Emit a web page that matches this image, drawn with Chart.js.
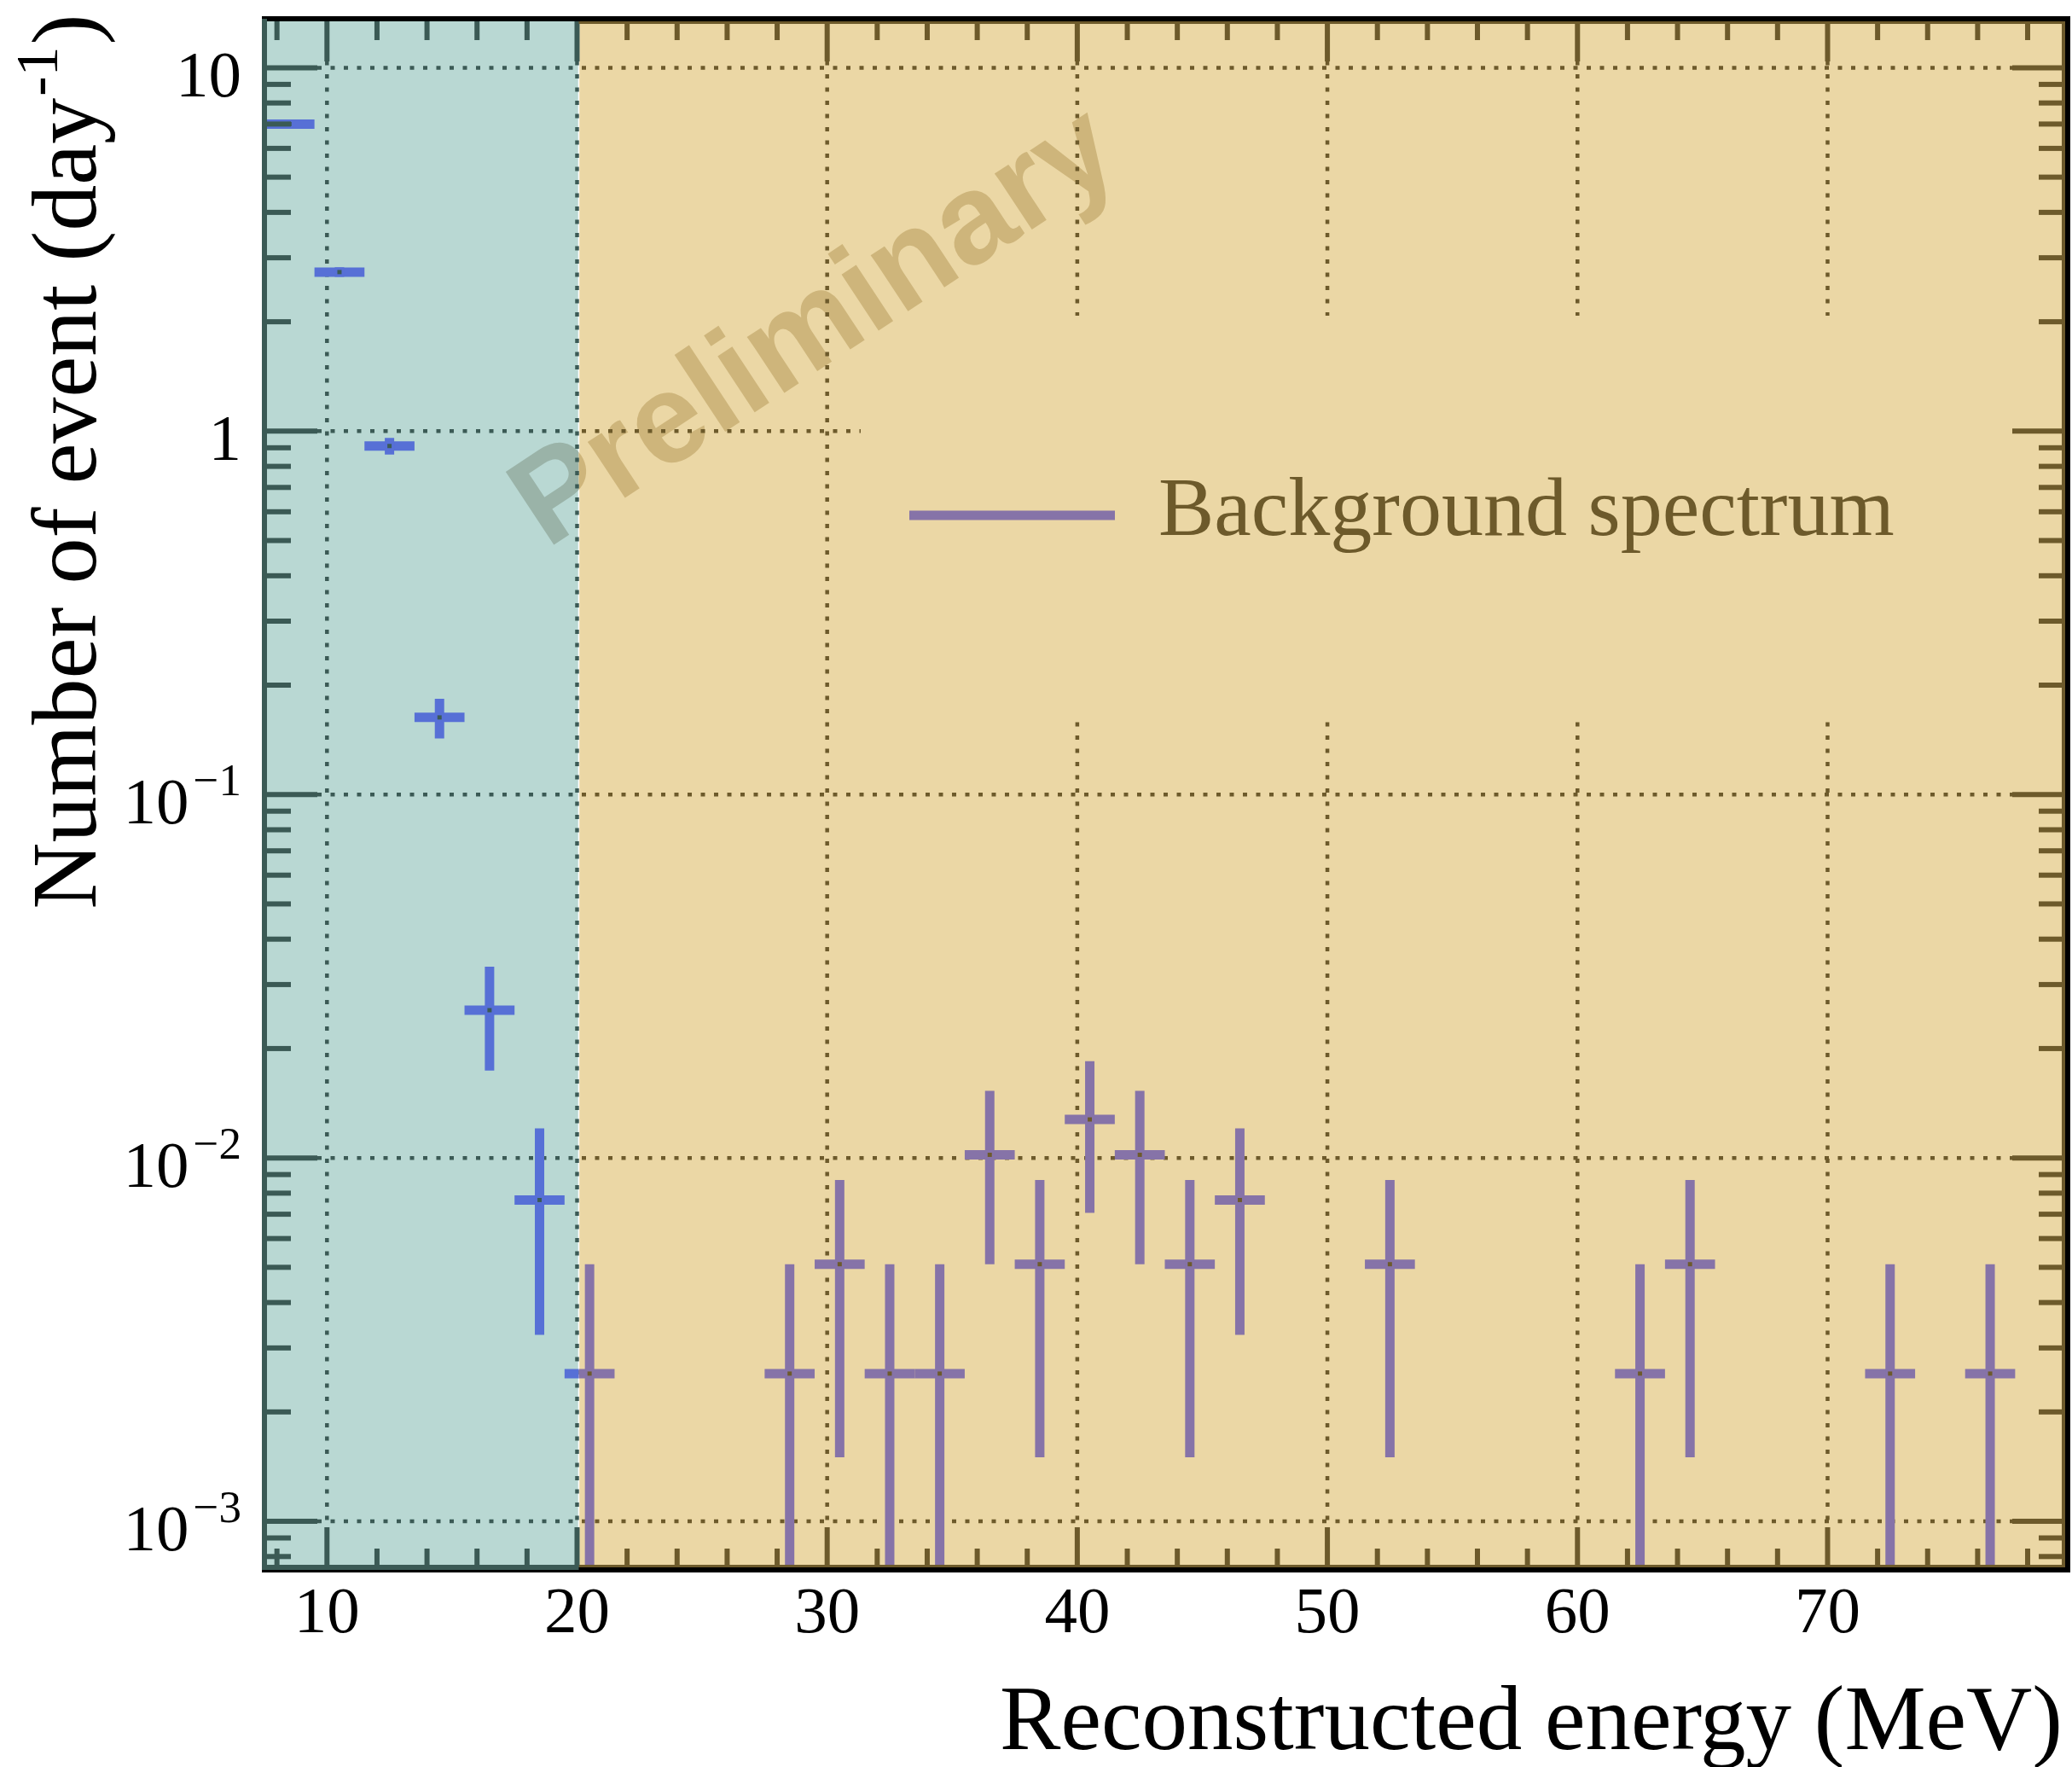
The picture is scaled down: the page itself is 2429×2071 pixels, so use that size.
<!DOCTYPE html>
<html>
<head>
<meta charset="utf-8">
<title>Background spectrum</title>
<script src="https://cdn.jsdelivr.net/npm/chart.js@4.4.0/dist/chart.umd.min.js"></script>
<style>
  html, body { margin: 0; padding: 0; background: #fff; }
  canvas { display: block; }
</style>
</head>
<body>
<canvas id="myChart" width="2429" height="2071"></canvas>
<script>
// Bin centres in MeV (bins are 2 MeV wide)
const energy = [8.5, 10.5, 12.5, 14.5, 16.5, 18.5, 20.5, 28.5, 30.5, 32.5, 34.5, 36.5, 38.5, 40.5, 42.5, 44.5, 46.5, 52.5, 62.5, 64.5, 72.5, 76.5];
// Event rate per day in each bin
const rate = [7.0, 2.74, 0.91, 0.163, 0.0255, 0.00766, 0.00255, 0.00255, 0.0051, 0.00255, 0.00255, 0.0102, 0.0051, 0.01276, 0.0102, 0.0051, 0.00766, 0.0051, 0.00255, 0.0051, 0.00255, 0.00255];
// Statistical error on each rate
const rateErr = [0.13, 0.083, 0.048, 0.0204, 0.0081, 0.0044, 0.00255, 0.00255, 0.0036, 0.00255, 0.00255, 0.0051, 0.0036, 0.0057, 0.0051, 0.0036, 0.0044, 0.0036, 0.00255, 0.0036, 0.00255, 0.00255];
const binWidth = 2;
// below this energy the region is shaded blue-green
const splitEnergy = 20;

// axis ticks and labels
const xTicks = [10, 20, 30, 40, 50, 60, 70];
const xTickLabels = ['10', '20', '30', '40', '50', '60', '70'];
const yTicks = [10, 1, 0.1, 0.01, 0.001];
const yTickBase = ['10', '1', '10', '10', '10'];
const yTickExp = ['', '', '\u22121', '\u22122', '\u22123'];

const xRange = [7.5, 79.5];
const yRange = [7.47e-4, 13.42];

const TEAL_BG = '#b9d8d3', TAN_BG = '#ebd7a5';
const TEAL_INK = '#3b5a55', TAN_INK = '#6d5a2b';
const BLUE = '#5770d6', PURPLE = '#8673a8';
const SERIF = '"Liberation Serif", "Times New Roman", serif';

// legend panel (grid is not drawn under it)
const legendBox = {left: 1009, top: 370, bottom: 846};

// minor ticks: every 2 MeV on x, 2..9 x 10^n on y
const xMinor = [];
for (let e = 8; e <= 78; e += 2) if (!xTicks.includes(e)) xMinor.push(e);
const yMinor = [];
[1e-4, 1e-3, 1e-2, 1e-1, 1, 10].forEach(d => {
    for (let m = 2; m <= 9; m++) {
        const v = m * d;
        if (v >= yRange[0] && v <= yRange[1]) yMinor.push(v);
    }
});

function splitPx(chart) {
    return chart.scales.x.getPixelForValue(splitEnergy) + 2;
}

// Runs fn twice, clipped to the low energy band and then to the rest of the plot
function inBands(chart, fn) {
    const ctx = chart.ctx, a = chart.chartArea, s = splitPx(chart);
    ctx.save();
    ctx.beginPath();
    ctx.rect(a.left, a.top, s - a.left, a.bottom - a.top);
    ctx.clip();
    fn('low');
    ctx.restore();
    ctx.save();
    ctx.beginPath();
    ctx.rect(s, a.top, a.right - s, a.bottom - a.top);
    ctx.clip();
    fn('high');
    ctx.restore();
}

function line(ctx, x0, y0, x1, y1) {
    ctx.beginPath();
    ctx.moveTo(x0, y0);
    ctx.lineTo(x1, y1);
    ctx.stroke();
}

const decor = {
    id: 'decor',
    beforeDraw(chart) {
        const {ctx, chartArea: a} = chart;
        const s = splitPx(chart);
        ctx.save();
        ctx.fillStyle = '#fff';
        ctx.fillRect(0, 0, chart.width, chart.height);
        ctx.fillStyle = TAN_BG;
        ctx.fillRect(a.left, a.top, a.right - a.left, a.bottom - a.top);
        ctx.fillStyle = TEAL_BG;
        ctx.fillRect(a.left, a.top, s - a.left, a.bottom - a.top);
        ctx.fillStyle = '#fff';
        ctx.fillRect(s - 0.75, a.top, 1.5, a.bottom - a.top);
        ctx.restore();

        // "Preliminary" stamp, tinted differently over each band
        inBands(chart, band => {
            ctx.translate(641, 644);
            ctx.rotate(-33.4 * Math.PI / 180);
            ctx.font = 'bold 149px "Liberation Sans", Arial, sans-serif';
            ctx.fillStyle = band === 'low' ? '#9ab3a8' : '#ceb57b';
            ctx.textAlign = 'left';
            ctx.textBaseline = 'alphabetic';
            ctx.fillText('Preliminary', 0, 0);
        });
    },
    beforeDatasetsDraw(chart) {
        const {ctx, chartArea: a, scales: {x, y}} = chart;

        // dotted grid, with a hole where the legend sits
        ctx.save();
        ctx.beginPath();
        ctx.rect(a.left, a.top, a.right - a.left, a.bottom - a.top);
        ctx.rect(legendBox.left, legendBox.top, a.right - legendBox.left, legendBox.bottom - legendBox.top);
        ctx.clip('evenodd');
        ctx.lineWidth = 4.5;
        ctx.setLineDash([5, 10.5]);
        inBands(chart, band => {
            ctx.strokeStyle = band === 'low' ? TEAL_INK : TAN_INK;
            yTicks.forEach(v => {
                const py = y.getPixelForValue(v);
                line(ctx, a.left, py, a.right, py);
            });
        });
        xTicks.forEach(v => {
            const px = x.getPixelForValue(v);
            ctx.strokeStyle = v <= splitEnergy ? TEAL_INK : TAN_INK;
            line(ctx, px, a.top, px, a.bottom);
        });
        ctx.restore();

        // error bars: bin width across, +-error up and down
        ctx.save();
        inBands(chart, band => {
            ctx.strokeStyle = band === 'low' ? BLUE : PURPLE;
            ctx.lineWidth = 11;
            ctx.lineCap = 'butt';
            energy.forEach((e, i) => {
                const px = x.getPixelForValue(e);
                const py = y.getPixelForValue(rate[i]);
                const lo = rate[i] - rateErr[i];
                const pLo = lo > 0 ? y.getPixelForValue(lo) : a.bottom + 20;
                const pHi = y.getPixelForValue(rate[i] + rateErr[i]);
                line(ctx, x.getPixelForValue(e - binWidth / 2), py, x.getPixelForValue(e + binWidth / 2), py);
                line(ctx, px, pHi, px, pLo);
            });
        });
        ctx.restore();
    },
    afterDraw(chart) {
        const {ctx, chartArea: a, scales: {x, y}} = chart;
        const s = splitPx(chart);
        ctx.save();
        ctx.lineWidth = 6;
        ctx.lineCap = 'butt';

        // x ticks, top and bottom
        xTicks.concat(xMinor).forEach(v => {
            const len = xTicks.includes(v) ? 47 : 22;
            const px = x.getPixelForValue(v);
            ctx.strokeStyle = v <= splitEnergy ? TEAL_INK : TAN_INK;
            line(ctx, px, a.bottom, px, a.bottom - len);
            line(ctx, px, a.top, px, a.top + len);
        });
        // y ticks, left and right
        yTicks.concat(yMinor).forEach(v => {
            const len = yTicks.includes(v) ? 62 : 31;
            const py = y.getPixelForValue(v);
            ctx.strokeStyle = TEAL_INK;
            line(ctx, a.left, py, a.left + len, py);
            ctx.strokeStyle = TAN_INK;
            line(ctx, a.right, py, a.right - len, py);
        });

        // frame
        ctx.fillStyle = '#000';
        ctx.fillRect(a.left - 3, a.top - 6, a.right - a.left + 9, 6);
        ctx.fillRect(a.right, a.top - 6, 6, a.bottom - a.top + 12);
        ctx.fillRect(a.left - 3, a.bottom, a.right - a.left + 9, 6);
        ctx.fillStyle = TAN_INK;
        ctx.fillRect(s, a.top, a.right - s, 3);
        ctx.fillRect(a.right - 4, a.top, 4, a.bottom - a.top);
        ctx.fillRect(s, a.bottom - 3, a.right - s, 3);
        ctx.fillStyle = TEAL_INK;
        ctx.fillRect(a.left - 3, a.top - 3, 6, a.bottom - a.top + 6);
        ctx.fillRect(a.left - 3, a.bottom - 3, s - a.left + 3, 6);

        // tick labels
        ctx.fillStyle = '#000';
        ctx.textBaseline = 'alphabetic';
        ctx.font = '77px ' + SERIF;
        ctx.textAlign = 'center';
        xTicks.forEach((v, i) => {
            ctx.fillText(xTickLabels[i], x.getPixelForValue(v), a.bottom + 76);
        });
        const labelRight = a.left - 27;
        yTicks.forEach((v, i) => {
            const py = y.getPixelForValue(v);
            let right = labelRight;
            ctx.textAlign = 'right';
            if (yTickExp[i]) {
                ctx.font = '53px ' + SERIF;
                ctx.fillText(yTickExp[i], right, py + 1);
                right -= ctx.measureText(yTickExp[i]).width + 5;
            }
            ctx.font = '77px ' + SERIF;
            ctx.fillText(yTickBase[i], right, py + 34);
        });

        // axis titles
        ctx.font = '107px ' + SERIF;
        ctx.textAlign = 'right';
        ctx.fillText('Reconstructed energy (MeV)', a.right - 3, 2050);

        ctx.save();
        ctx.translate(112, 541);
        ctx.rotate(-Math.PI / 2);
        const main = '108px ' + SERIF, sup = '70px ' + SERIF;
        ctx.font = main;
        const w1 = ctx.measureText('Number of event (day').width;
        const w3 = ctx.measureText(')').width;
        ctx.font = sup;
        const w2 = ctx.measureText('-1').width + 4;
        let tx = -(w1 + w2 + w3) / 2;
        ctx.textAlign = 'left';
        ctx.font = main;
        ctx.fillText('Number of event (day', tx, 0);
        tx += w1 + 2;
        ctx.font = sup;
        ctx.fillText('-1', tx, -45);
        tx += w2 - 2;
        ctx.font = main;
        ctx.fillText(')', tx, 0);
        ctx.restore();

        // legend entry
        ctx.strokeStyle = PURPLE;
        ctx.lineWidth = 11;
        line(ctx, 1066, 604, 1307, 604);
        ctx.fillStyle = TAN_INK;
        ctx.font = '98px ' + SERIF;
        ctx.textAlign = 'left';
        ctx.fillText(chart.data.datasets[0].label, 1358, 627);
        ctx.restore();
    }
};

const myChart = new Chart(document.getElementById('myChart'), {
    type: 'scatter',
    data: {
        datasets: [{
            label: 'Background spectrum',
            data: energy.map((e, i) => ({x: e, y: rate[i]})),
            pointStyle: 'rect',
            pointRadius: 3.5,
            pointBorderWidth: 0,
            pointBackgroundColor: c => (c.raw && c.raw.x < splitEnergy) ? TEAL_INK : TAN_INK,
            borderColor: PURPLE,
            backgroundColor: PURPLE
        }]
    },
    options: {
        responsive: false,
        animation: false,
        devicePixelRatio: 1,
        layout: { padding: { left: 310, right: 8, top: 25, bottom: 234 } },
        scales: {
            x: { type: 'linear', display: false, min: xRange[0], max: xRange[1] },
            y: { type: 'logarithmic', display: false, min: yRange[0], max: yRange[1] }
        },
        plugins: {
            legend: { display: false },
            tooltip: { enabled: false }
        }
    },
    plugins: [decor]
});
</script>
</body>
</html>
